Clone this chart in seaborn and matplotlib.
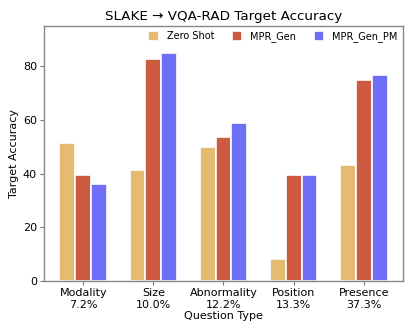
import pandas as pd
import matplotlib
matplotlib.use("Agg")
import matplotlib.pyplot as plt
import seaborn as sns

# ------------------------------------------
# Data
# ------------------------------------------
categories = ["Modality\n7.2%", "Size\n10.0%", "Abnormality\n12.2%", "Position\n13.3%", "Presence\n37.3%"]
zero_shot = [51.5, 41.2, 50.0, 8.2, 43.3]
mpr_gen = [39.4, 82.8, 53.7, 39.3, 75.0]
mpr_gen_pm = [36.3, 85.0, 59.0, 39.3, 76.7]

methods = ["Zero Shot", "MPR_Gen", "MPR_Gen_PM"]
colors = ["#E5BB72", "#CD5B3F", "#6E6EF7"]

rows = []
for name, vals in zip(methods, [zero_shot, mpr_gen, mpr_gen_pm]):
    for cat, v in zip(categories, vals):
        rows.append({"Question Type": cat, "Method": name, "Accuracy": v})
df = pd.DataFrame(rows)

# ------------------------------------------
# Plot
# ------------------------------------------
sns.set_style("white")
plt.rcParams["font.family"] = ["DejaVu Sans"]
plt.rcParams["text.color"] = "black"
plt.rcParams["axes.labelcolor"] = "black"
plt.rcParams["xtick.color"] = "black"
plt.rcParams["ytick.color"] = "black"

fig = plt.figure(figsize=(4.15, 3.23), dpi=100)
ax = fig.add_axes([0.106, 0.130, 0.865, 0.790])

sns.barplot(data=df, x="Question Type", y="Accuracy", hue="Method",
            palette=colors, width=0.68, edgecolor="white", linewidth=1.2,
            saturation=1, ax=ax)

ax.set_xlim(-0.56, 4.56)
ax.set_ylim(0, 95)
ax.set_yticks([0, 20, 40, 60, 80])
ax.set_title("SLAKE \u2192 VQA-RAD Target Accuracy", fontsize=9.7, pad=4)
ax.set_xlabel("Question Type", fontsize=8, labelpad=1)
ax.set_ylabel("Target Accuracy", fontsize=8, labelpad=3)
ax.tick_params(axis="both", labelsize=8, length=3, color="#777777", direction="out",
               bottom=True, left=True, pad=2)
for s in ax.spines.values():
    s.set_color("#888888")
    s.set_linewidth(1.0)

ax.legend(loc="upper right", ncol=3, frameon=False, fontsize=7,
          handlelength=1.1, handleheight=1.1, columnspacing=1.8, handletextpad=0.8,
          borderaxespad=0.15)

plt.savefig("out.png", dpi=100)
